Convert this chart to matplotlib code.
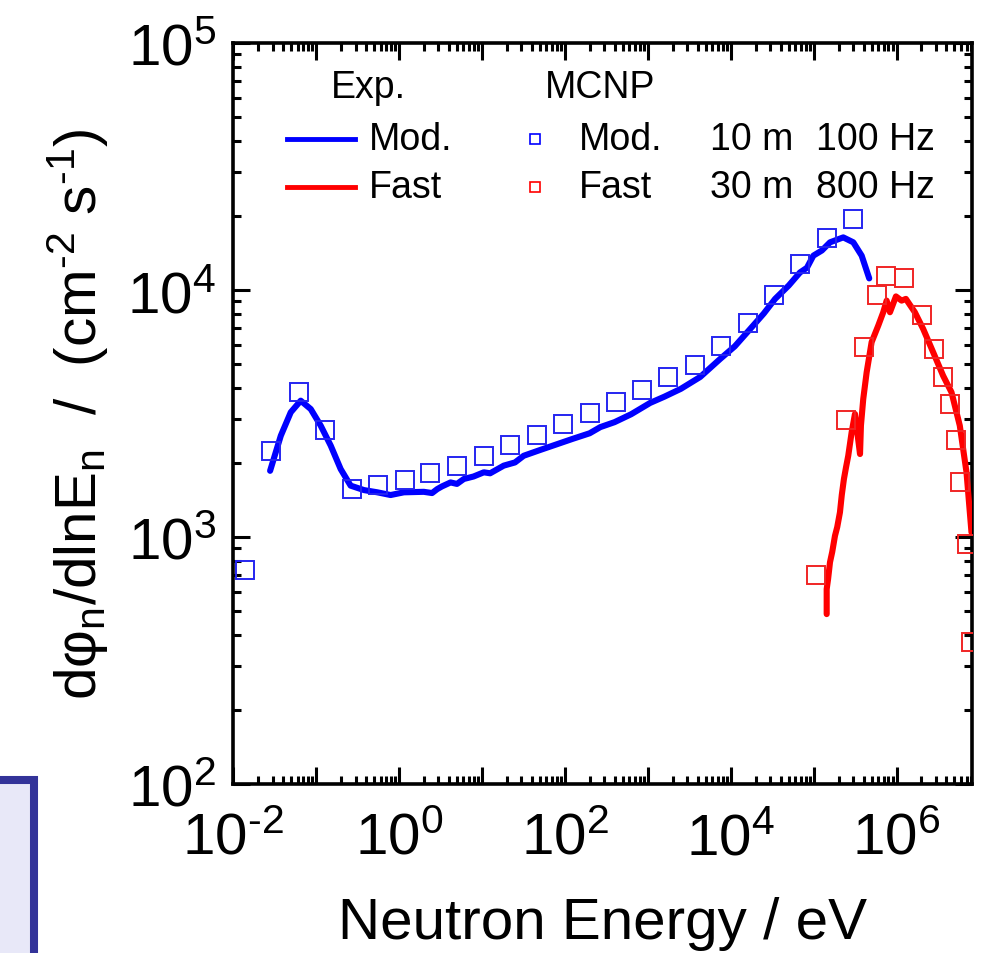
import math
import matplotlib
matplotlib.use("Agg")
import matplotlib.pyplot as plt
from matplotlib.patches import Rectangle
from matplotlib.lines import Line2D
from matplotlib.ticker import LogLocator, FuncFormatter, NullFormatter, FixedLocator

plt.rcParams['font.family'] = ['Liberation Sans', 'DejaVu Sans']
plt.rcParams['mathtext.fontset'] = 'custom'
plt.rcParams['mathtext.rm'] = 'Liberation Sans'
plt.rcParams['mathtext.it'] = 'Liberation Sans:italic'
plt.rcParams['axes.unicode_minus'] = False

# log10 values
# Exp. moderated (blue line)
mod_exp_logE = [-1.553, -1.424, -1.304, -1.184, -1.063, -0.943, -0.822, -0.702, -0.582,
                -0.421, -0.26, -0.10, 0.06, 0.30, 0.40, 0.462, 0.52, 0.623, 0.70, 0.783,
                0.90, 1.024, 1.10, 1.264, 1.40, 1.505, 1.70, 1.90, 2.10, 2.30, 2.429, 2.60,
                2.80, 3.03, 3.20, 3.40, 3.633, 3.874, 4.05, 4.235, 4.40, 4.536, 4.70,
                4.836, 4.92, 4.997, 5.10, 5.198, 5.358, 5.479, 5.58, 5.671]
mod_exp_logY = [3.268, 3.410, 3.505, 3.552, 3.518, 3.451, 3.370, 3.275, 3.208,
                3.190, 3.181, 3.170, 3.181, 3.183, 3.178, 3.194, 3.205, 3.221, 3.215, 3.235,
                3.245, 3.262, 3.258, 3.289, 3.302, 3.329, 3.352, 3.375, 3.398, 3.420, 3.445, 3.465,
                3.497, 3.543, 3.568, 3.600, 3.648, 3.721, 3.772, 3.842, 3.905, 3.964, 4.018,
                4.071, 4.090, 4.139, 4.160, 4.193, 4.213, 4.193, 4.139, 4.047]

# Exp. fast (red line)
fast_exp_logE = [5.158, 5.158, 5.175, 5.198, 5.225, 5.258, 5.285, 5.318, 5.340, 5.366,
                 5.390, 5.418, 5.459, 5.499, 5.527, 5.56, 5.571, 5.599, 5.64, 5.70, 5.78,
                 5.84, 5.881, 5.921, 5.993, 6.061, 6.113, 6.221, 6.322, 6.442, 6.562,
                 6.663, 6.763, 6.844, 6.904]
fast_exp_logY = [2.688, 2.789, 2.830, 2.898, 2.940, 3.005, 3.040, 3.100, 3.170, 3.235,
                 3.280, 3.329, 3.424, 3.498, 3.424, 3.336, 3.451, 3.559, 3.667, 3.789, 3.856,
                 3.910, 3.957, 3.910, 3.974, 3.957, 3.964, 3.910, 3.842, 3.748, 3.653,
                 3.586, 3.451, 3.262, 3.019]

# MCNP moderated (blue squares)
mod_mcnp_logE = [-1.858, -1.543, -1.207, -0.895, -0.570, -0.257, 0.068, 0.38, 0.705,
                 1.03, 1.345, 1.67, 1.983, 2.30, 2.62, 2.936, 3.25, 3.57, 3.887, 4.21,
                 4.525, 4.84, 5.16, 5.475]
mod_mcnp_logY = [2.866, 3.348, 3.587, 3.433, 3.194, 3.211, 3.231, 3.259, 3.287,
                 3.328, 3.372, 3.413, 3.457, 3.502, 3.547, 3.595, 3.648, 3.696, 3.773, 3.866,
                 3.980, 4.105, 4.210, 4.287]

# MCNP fast (red squares)
fast_mcnp_logE = [5.026, 5.394, 5.611, 5.76, 5.872, 6.089, 6.302, 6.45, 6.555, 6.647,
                  6.712, 6.767, 6.85, 6.904]
fast_mcnp_logY = [2.846, 3.475, 3.768, 3.981, 4.058, 4.050, 3.898, 3.761, 3.649, 3.537,
                  3.394, 3.223, 2.970, 2.576]


def lin(v):
    return [10 ** a for a in v]


def pow_label(k):
    # hyphen instead of a long minus, as in the original
    s = str(k).replace('-', r'\text{-}')
    return r'$\mathregular{10^{%s}}$' % s


fig = plt.figure(figsize=(9.82, 9.54), dpi=100)
ax = fig.add_axes([0.2373, 0.1771, 0.7525, 0.7768])

blue = '#0000ff'
red = '#ff0000'

ax.plot(lin(mod_exp_logE), lin(mod_exp_logY), color=blue, lw=4.4, solid_capstyle='round', zorder=3)
ax.plot(lin(fast_exp_logE), lin(fast_exp_logY), color=red, lw=4.4, solid_capstyle='round', zorder=3)
ax.plot(lin(mod_mcnp_logE), lin(mod_mcnp_logY), ls='none', marker='s', ms=13.5, mfc='none',
        mec='#2525f0', mew=1.4, zorder=4)
ax.plot(lin(fast_mcnp_logE), lin(fast_mcnp_logY), ls='none', marker='s', ms=13.5, mfc='none',
        mec='#f02525', mew=1.4, zorder=4)

ax.set_xscale('log')
ax.set_yscale('log')
ax.set_xlim(1e-2, 10 ** 6.91)
ax.set_ylim(1e2, 1e5)

ax.xaxis.set_major_locator(FixedLocator([10.0 ** k for k in range(-2, 7)]))
ax.xaxis.set_major_formatter(FuncFormatter(
    lambda v, p: pow_label(round(math.log10(v))) if round(math.log10(v)) % 2 == 0 else ''))
ax.xaxis.set_minor_locator(LogLocator(base=10, subs=range(2, 10), numticks=50))
ax.xaxis.set_minor_formatter(NullFormatter())
ax.yaxis.set_major_locator(FixedLocator([1e2, 1e3, 1e4, 1e5]))
ax.yaxis.set_major_formatter(FuncFormatter(lambda v, p: pow_label(round(math.log10(v)))))
ax.yaxis.set_minor_locator(LogLocator(base=10, subs=range(2, 10), numticks=50))
ax.yaxis.set_minor_formatter(NullFormatter())

ax.tick_params(which='both', direction='in', top=True, right=True, width=2.2, labelsize=42)
ax.tick_params(which='major', length=12)
ax.tick_params(which='minor', length=6)
ax.tick_params(axis='x', which='major', pad=20)
ax.tick_params(axis='y', which='major', pad=12)
for s in ax.spines.values():
    s.set_linewidth(2.6)

ax.set_xlabel('Neutron Energy / eV', fontsize=42, labelpad=22)
ax.set_ylabel(r'd$\mathregular{\varphi_n}$/dlnE$\mathregular{_n}$  /  '
              r'(cm$\mathregular{^{\text{-}2}}$ s$\mathregular{^{\text{-}1}}$)',
              fontsize=42, labelpad=12)

# legend, drawn by hand
t = ax.transAxes
fs = 27
ax.text(0.1827, 0.9406, 'Exp.', transform=t, fontsize=fs, ha='center', va='center')
ax.text(0.4966, 0.9406, 'MCNP', transform=t, fontsize=fs, ha='center', va='center')
ax.add_line(Line2D([0.0731, 0.1651], [0.8704, 0.8704], transform=t, color=blue, lw=3.5))
ax.add_line(Line2D([0.0731, 0.1651], [0.8057, 0.8057], transform=t, color=red, lw=3.5))
ax.text(0.184, 0.8704, 'Mod.', transform=t, fontsize=fs, ha='left', va='center')
ax.text(0.184, 0.8057, 'Fast', transform=t, fontsize=fs, ha='left', va='center')
ax.add_line(Line2D([0.4087], [0.8704], transform=t, ls='none', marker='s', ms=7.5, mfc='none',
                   mec=blue, mew=1.2))
ax.add_line(Line2D([0.4087], [0.8057], transform=t, ls='none', marker='s', ms=7.5, mfc='none',
                   mec=red, mew=1.2))
ax.text(0.468, 0.8704, 'Mod.', transform=t, fontsize=fs, ha='left', va='center')
ax.text(0.468, 0.8057, 'Fast', transform=t, fontsize=fs, ha='left', va='center')
ax.text(0.6455, 0.8704, '10 m', transform=t, fontsize=fs, ha='left', va='center')
ax.text(0.6455, 0.8057, '30 m', transform=t, fontsize=fs, ha='left', va='center')
ax.text(0.7885, 0.8704, '100 Hz', transform=t, fontsize=fs, ha='left', va='center')
ax.text(0.7885, 0.8057, '800 Hz', transform=t, fontsize=fs, ha='left', va='center')

# piece of the neighbouring slide box at lower left
fig.patches.append(Rectangle((-0.1, -0.1), 0.1346, 0.2813, transform=fig.transFigure,
                             facecolor='#e8e8f8', edgecolor='#333399', lw=5.8, zorder=0))

fig.savefig('out.png', dpi=100)
